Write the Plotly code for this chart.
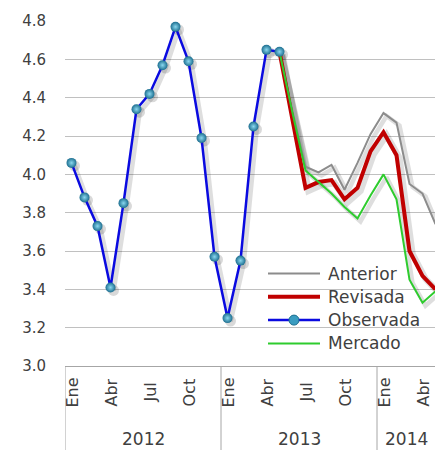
import plotly.graph_objects as go

# ---------------- data ----------------
months = ["Ene", "Feb", "Mar", "Abr", "May", "Jun", "Jul", "Ago", "Sep", "Oct", "Nov", "Dic"]
years = ["2012", "2013", "2014"]

# monthly values starting Ene 2012
observada = [4.06, 3.88, 3.73, 3.41, 3.85, 4.34, 4.42, 4.57, 4.77, 4.59, 4.19, 3.57,
             3.25, 3.55, 4.25, 4.65, 4.64]
# forecasts start at May 2013 (month index 16)
forecast_start = 16
anterior = [4.64, 4.33, 4.04, 4.01, 4.05, 3.92, 4.06, 4.21, 4.32, 4.27, 3.95, 3.90, 3.74]
revisada = [4.64, 4.28, 3.93, 3.96, 3.97, 3.87, 3.93, 4.12, 4.22, 4.10, 3.60, 3.47, 3.40]
mercado = [4.64, 4.32, 4.02, 3.96, 3.90, 3.83, 3.77, 3.89, 4.00, 3.87, 3.45, 3.33, 3.39]

y_ticks = [3.0, 3.2, 3.4, 3.6, 3.8, 4.0, 4.2, 4.4, 4.6, 4.8]
y_tick_labels = ["3.0", "3.2", "3.4", "3.6", "3.8", "4.0", "4.2", "4.4", "4.6", "4.8"]
month_label_step = 3

# ---------------- layout constants ----------------
W, H = 435, 450
ML, MT, MB, MR = 65, 21, 84, 0
PW, PH = W - ML - MR, H - MT - MB
MONTH_PX = 13.0
x_range = [-0.5, -0.5 + PW / MONTH_PX]
y_range = [3.0, 4.8]
y_px_per_unit = PH / (y_range[1] - y_range[0])

SH_DX, SH_DY = 3, 3
x_range_sh = [x_range[0] - SH_DX / MONTH_PX, x_range[1] - SH_DX / MONTH_PX]
y_range_sh = [y_range[0] + SH_DY / y_px_per_unit, y_range[1] + SH_DY / y_px_per_unit]

FONT = "DejaVu Sans"
TXT = "#404040"
AXIS_COL = "#a6a6a6"


def px_x(px):
    return (px - ML) / PW


def px_y(py):
    return (H - MB - py) / PH


x_obs = list(range(len(observada)))
x_fc = list(range(forecast_start, forecast_start + len(anterior)))

styles = {
    "Anterior": dict(color="#8c8c8c", width=2),
    "Revisada": dict(color="#c00000", width=4),
    "Mercado": dict(color="#2ecc2e", width=2),
    "Observada": dict(color="#0a0ae0", width=2.5),
}
series = [
    ("Anterior", x_fc, anterior),
    ("Revisada", x_fc, revisada),
    ("Mercado", x_fc, mercado),
    ("Observada", x_obs, observada),
]

marker_obs = dict(size=10, color="#1d6f90",
                  gradient=dict(type="radial", color="#8ad8ef"),
                  line=dict(width=0))

fig = go.Figure()

# soft drop shadows (same data, axes shifted a few pixels)
for name, xs, ys in series:
    st = styles[name]
    fig.add_trace(go.Scatter(
        x=xs, y=ys, xaxis="x", yaxis="y",
        mode="lines+markers" if name == "Observada" else "lines",
        line=dict(color="rgba(0,0,0,0.13)", width=st["width"] + 2.5),
        marker=dict(size=11, color="rgba(0,0,0,0.15)"),
        hoverinfo="skip", showlegend=False))

# main series
for name, xs, ys in series:
    st = styles[name]
    fig.add_trace(go.Scatter(
        x=xs, y=ys, xaxis="x2", yaxis="y2", name=name,
        mode="lines+markers" if name == "Observada" else "lines",
        line=dict(color=st["color"], width=st["width"]),
        marker=marker_obs,
        showlegend=False))

annotations = []
shapes = []

# month labels (rotated) and year groups
n_months = 12 * len(years)
for i in range(n_months):
    if i % month_label_step == 0 and x_range[0] <= i <= x_range[1]:
        annotations.append(dict(
            x=i, xref="x2", y=px_y(393), yref="paper",
            text=months[i % 12], textangle=-90, showarrow=False,
            xanchor="center", yanchor="middle",
            font=dict(family=FONT, size=16, color=TXT)))

for k, yr in enumerate(years):
    start, end = 12 * k - 0.5, 12 * k + 11.5
    if start < x_range[1]:
        c = (max(start, x_range[0]) + min(end, x_range[1])) / 2
        annotations.append(dict(
            x=c, xref="x2", y=px_y(438.5), yref="paper", text=yr,
            showarrow=False, xanchor="center", yanchor="middle",
            font=dict(family=FONT, size=17, color=TXT)))
        shapes.append(dict(type="line", xref="x2", yref="paper",
                           x0=start, x1=start, y0=0, y1=px_y(H + 5),
                           line=dict(color=AXIS_COL, width=1)))

# custom legend
legend_order = ["Anterior", "Revisada", "Observada", "Mercado"]
LEG_Y0, LEG_DY = 273.5, 23.3
LEG_X0, LEG_X1, LEG_TX = 268, 320, 326
for r, name in enumerate(legend_order):
    st = styles[name]
    yy = px_y(LEG_Y0 + r * LEG_DY)
    shapes.append(dict(type="line", xref="paper", yref="paper",
                       x0=px_x(LEG_X0), x1=px_x(LEG_X1), y0=yy, y1=yy,
                       line=dict(color=st["color"], width=st["width"])))
    if name == "Observada":
        cx, cy, rad = (LEG_X0 + LEG_X1) / 2, LEG_Y0 + r * LEG_DY, 5
        shapes.append(dict(type="circle", xref="paper", yref="paper",
                           x0=px_x(cx - rad), x1=px_x(cx + rad),
                           y0=px_y(cy + rad), y1=px_y(cy - rad),
                           fillcolor="#3a9cc0", line=dict(color="#1d6f90", width=1)))
    annotations.append(dict(
        x=px_x(LEG_TX), xref="paper", y=yy, yref="paper", text=name,
        showarrow=False, xanchor="left", yanchor="middle",
        font=dict(family=FONT, size=17, color=TXT)))

fig.update_layout(
    width=W, height=H,
    margin=dict(l=ML, r=MR, t=MT, b=MB, pad=0),
    paper_bgcolor="white", plot_bgcolor="white",
    showlegend=False,
    xaxis=dict(range=x_range_sh, visible=False, fixedrange=True),
    yaxis=dict(range=y_range_sh, visible=False, fixedrange=True),
    xaxis2=dict(range=x_range, overlaying="x", showgrid=False, zeroline=False,
                showline=True, linecolor=AXIS_COL, linewidth=1,
                showticklabels=False, ticks=""),
    yaxis2=dict(range=[y_range[0], y_range[1] + 0.0005], overlaying="y", side="left",
                tickvals=y_ticks, ticktext=y_tick_labels,
                showgrid=True, gridcolor="#c0c0c0", gridwidth=1,
                zeroline=False, showline=False, ticks="",
                ticklabelstandoff=18,
                tickfont=dict(family=FONT, size=15, color=TXT)),
    annotations=annotations,
    shapes=shapes,
)

fig.write_html("out.html")
